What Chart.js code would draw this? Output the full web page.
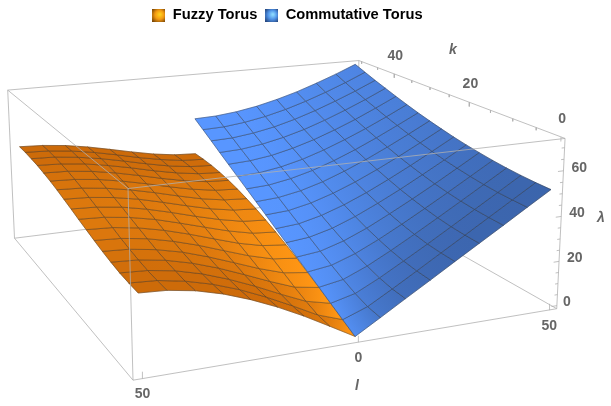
<!DOCTYPE html>
<html lang="en">
<head>
    <meta charset="UTF-8">
    <title>Fuzzy Torus vs Commutative Torus</title>
    <script src="https://cdn.jsdelivr.net/npm/chart.js"></script>
    <style>
        body { margin: 0; background: #fff; }
        canvas { display: block; }
    </style>
</head>
<body>
    <canvas id="grafico" width="611" height="406"></canvas>

    <script>
        // values
        const seriesNames = ['Fuzzy Torus', 'Commutative Torus'];
        const lValues = [0, 6.25, 12.5, 18.75, 25, 31.25, 37.5, 43.75, 50];
        const kValues = [0, 3.125, 6.25, 9.375, 12.5, 15.625, 18.75, 21.875, 25, 28.125, 31.25, 34.375, 37.5, 40.625, 43.75, 46.875, 50];

        // one row per |l|, one column per k
        const fuzzyLambda = [
            [0, 3.2, 6.4, 9.6, 12.6, 15.6, 18.3, 20.9, 23.3, 25.5, 27.4, 29.1, 30.5, 31.6, 32.4, 32.8, 33.0],
            [6.2, 7.0, 9.0, 11.4, 14.1, 16.8, 19.4, 21.8, 24.1, 26.3, 28.1, 29.8, 31.1, 32.2, 33.0, 33.4, 33.6],
            [12.3, 12.7, 13.8, 15.6, 17.6, 19.8, 22.0, 24.3, 26.4, 28.3, 30.0, 31.6, 32.9, 33.9, 34.6, 35.1, 35.2],
            [17.8, 18.1, 18.9, 20.2, 21.8, 23.6, 25.5, 27.5, 29.3, 31.1, 32.7, 34.1, 35.3, 36.2, 36.9, 37.3, 37.5],
            [22.6, 22.9, 23.5, 24.6, 25.9, 27.5, 29.1, 30.8, 32.5, 34.1, 35.6, 36.9, 38.0, 38.9, 39.5, 39.9, 40.0],
            [26.6, 26.8, 27.4, 28.3, 29.5, 30.8, 32.3, 33.9, 35.4, 36.9, 38.2, 39.4, 40.5, 41.3, 41.9, 42.3, 42.4],
            [29.6, 29.7, 30.3, 31.1, 32.1, 33.4, 34.8, 36.2, 37.7, 39.0, 40.3, 41.5, 42.5, 43.3, 43.8, 44.2, 44.3],
            [31.4, 31.6, 32.0, 32.8, 33.8, 35.0, 36.4, 37.7, 39.1, 40.4, 41.7, 42.8, 43.8, 44.5, 45.1, 45.4, 45.5],
            [32.0, 32.2, 32.6, 33.4, 34.4, 35.6, 36.9, 38.2, 39.6, 40.9, 42.2, 43.3, 44.2, 45.0, 45.5, 45.9, 46.0]
        ];
        const commutativeLambda = [
            [0, 3.2, 6.4, 9.7, 12.9, 16.1, 19.3, 22.5, 25.8, 29.0, 32.2, 35.4, 38.6, 41.8, 45.1, 48.3, 51.5],
            [6.4, 7.2, 9.1, 11.6, 14.4, 17.3, 20.4, 23.4, 26.5, 29.7, 32.8, 36.0, 39.2, 42.3, 45.5, 48.7, 51.9],
            [12.9, 13.3, 14.4, 16.1, 18.2, 20.6, 23.2, 26.0, 28.8, 31.7, 34.7, 37.7, 40.7, 43.8, 46.9, 50.0, 53.1],
            [19.3, 19.6, 20.4, 21.6, 23.2, 25.1, 27.3, 29.7, 32.2, 34.8, 37.5, 40.3, 43.2, 46.1, 49.0, 52.0, 55.0],
            [25.8, 26.0, 26.5, 27.5, 28.8, 30.4, 32.2, 34.2, 36.4, 38.8, 41.2, 43.8, 46.4, 49.1, 51.9, 54.7, 57.6],
            [32.2, 32.4, 32.8, 33.6, 34.7, 36.0, 37.5, 39.3, 41.2, 43.3, 45.5, 47.9, 50.3, 52.8, 55.4, 58.0, 60.7],
            [38.6, 38.8, 39.2, 39.8, 40.7, 41.8, 43.2, 44.7, 46.4, 48.3, 50.3, 52.4, 54.6, 57.0, 59.4, 61.8, 64.4],
            [45.1, 45.2, 45.5, 46.1, 46.9, 47.9, 49.0, 50.4, 51.9, 53.6, 55.4, 57.3, 59.4, 61.5, 63.7, 66.0, 68.4],
            [51.5, 51.6, 51.9, 52.4, 53.1, 54.0, 55.0, 56.2, 57.6, 59.1, 60.7, 62.5, 64.4, 66.4, 68.4, 70.6, 72.8]
        ];

        const lTicks = [-50, 0, 50];
        const lTickLabels = ['50', '0', '50'];
        const kTicks = [0, 20, 40];
        const kMinorTicks = [5, 10, 15, 25, 30, 35, 45, 50];
        const lambdaTicks = [0, 20, 40, 60];
        const lambdaMinorTicks = [5, 10, 15, 25, 30, 35, 45, 50, 55, 65, 70];

        // box limits
        const lRange = [-52.08, 52.08];
        const kRange = [-0.78, 50.9];
        const lambdaRange = [-1.4, 74];

        // camera: box coordinates (0..1) to picture coordinates, fitted on the box corners
        function project(l, k, lam) {
            const u = (l - lRange[0]) / (lRange[1] - lRange[0]);
            const v = (k - kRange[0]) / (kRange[1] - kRange[0]);
            const w = (lam - lambdaRange[0]) / (lambdaRange[1] - lambdaRange[0]);
            const d = 1 + 0.1352 * u + 0.3159 * v - 0.033 * w;
            return {
                x: (133 + 499 * u - 113.9 * v - 9.2 * w) / d,
                y: (380 - 30.36 * u - 68.13 * v - 199.2 * w) / d
            };
        }

        function mix(a, b, t) {
            t = Math.max(0, Math.min(1, t));
            const c = a.map((v, i) => Math.round(v + (b[i] - v) * t));
            return `rgb(${c[0]},${c[1]},${c[2]})`;
        }

        const datasets = [];

        function addLine(points, color, width) {
            datasets.push({
                data: points,
                showLine: true,
                pointRadius: 0,
                borderColor: color,
                borderWidth: width,
                fill: false,
                clip: false
            });
        }

        // light value at a grid vertex, from the slope over a wide stencil so the read-off noise does not show
        function lightAt(grid, i, j, spread, power) {
            const a0 = Math.max(0, i - 2), a1 = Math.min(lValues.length - 1, i + 2);
            const b0 = Math.max(0, j - 2), b1 = Math.min(kValues.length - 1, j + 2);
            const gl = (grid[a1][j] - grid[a0][j]) / (lValues[a1] - lValues[a0]);
            const gk = (grid[i][b1] - grid[i][b0]) / (kValues[b1] - kValues[b0]);
            return Math.pow(Math.max(0, gk) / Math.sqrt(1 + gl * gl + gk * gk) / spread, power);
        }

        function addSurface(grid, sign, dark, bright, spread, power) {
            for (let i = 0; i < lValues.length - 1; i++) {
                for (let j = 0; j < kValues.length - 1; j++) {
                    const near = (lightAt(grid, i, j, spread, power) + lightAt(grid, i, j + 1, spread, power)) / 2;
                    const far = (lightAt(grid, i + 1, j, spread, power) + lightAt(grid, i + 1, j + 1, spread, power)) / 2;
                    const corners = [
                        project(sign * lValues[i], kValues[j], grid[i][j]),
                        project(sign * lValues[i + 1], kValues[j], grid[i + 1][j]),
                        project(sign * lValues[i + 1], kValues[j + 1], grid[i + 1][j + 1]),
                        project(sign * lValues[i], kValues[j + 1], grid[i][j + 1])
                    ];
                    corners.push(corners[0]);
                    addLine(corners, 'rgba(45,45,45,0.68)', 0.6);
                    datasets[datasets.length - 1].cellColors = [mix(dark, bright, near), mix(dark, bright, far)];
                }
            }
        }

        const boxColor = '#b0b0b0';
        const [l0, l1] = lRange;
        const [k0, k1] = kRange;
        const [z0, z1] = lambdaRange;

        // box edges behind the surfaces
        addLine([project(l0, k1, z0), project(l1, k1, z0), project(l1, k0, z0)], boxColor, 0.8);
        addLine([project(l0, k1, z0), project(l0, k0, z0), project(l1, k0, z0)], boxColor, 0.8);
        addLine([project(l0, k1, z0), project(l0, k1, z1)], boxColor, 0.8);
        addLine([project(l1, k1, z0), project(l1, k1, z1)], boxColor, 0.8);

        addSurface(fuzzyLambda, -1, [203, 105, 9], [255, 150, 20], 0.65, 2);
        addSurface(commutativeLambda, 1, [58, 98, 168], [88, 150, 255], 0.7, 1.2);

        // box edges in front of the surfaces
        addLine([project(l0, k1, z1), project(l1, k1, z1), project(l1, k0, z1), project(l0, k0, z1), project(l0, k1, z1)], boxColor, 0.8);
        addLine([project(l0, k0, z0), project(l0, k0, z1)], boxColor, 0.8);
        addLine([project(l1, k0, z0), project(l1, k0, z1)], boxColor, 0.8);

        // tick marks
        lTicks.forEach(l => addLine([project(l, k0, z0), project(l, k0, z0 + 2.8)], boxColor, 0.8));
        kTicks.forEach(k => addLine([project(l1, k, z1), project(l1, k, z1 - 2)], boxColor, 0.8));
        kMinorTicks.forEach(k => addLine([project(l1, k, z1), project(l1, k, z1 - 1.2)], boxColor, 0.8));
        lambdaTicks.forEach(z => addLine([project(l1, k0, z), project(l1 - 1.5, k0, z)], boxColor, 0.8));
        lambdaMinorTicks.forEach(z => addLine([project(l1, k0, z), project(l1 - 0.8, k0, z)], boxColor, 0.8));

        // Chart.js paints the first dataset on top
        datasets.reverse();

        function swatch(inner, middle, outer) {
            const c = document.createElement('canvas');
            c.width = 13;
            c.height = 13;
            const g = c.getContext('2d');
            const grad = g.createRadialGradient(7.5, 5.5, 0.5, 6.5, 6.5, 9.5);
            grad.addColorStop(0, inner);
            grad.addColorStop(0.45, middle);
            grad.addColorStop(1, outer);
            g.fillStyle = grad;
            g.fillRect(0, 0, 13, 13);
            return c;
        }
        const swatches = [
            swatch('#ffd21e', '#f59a12', '#5e3404'),
            swatch('#8fdcff', '#4f93e8', '#1c3566')
        ];

        // fills a surface cell from the points the scales have placed
        const cellFill = {
            id: 'cellFill',
            beforeDatasetDraw(chart, args) {
                const colors = chart.data.datasets[args.index].cellColors;
                if (!colors) return;
                const { ctx } = chart;
                const p = args.meta.data;
                const grad = ctx.createLinearGradient(
                    (p[0].x + p[3].x) / 2, (p[0].y + p[3].y) / 2,
                    (p[1].x + p[2].x) / 2, (p[1].y + p[2].y) / 2
                );
                grad.addColorStop(0, colors[0]);
                grad.addColorStop(1, colors[1]);
                ctx.save();
                ctx.beginPath();
                p.forEach((pt, i) => i ? ctx.lineTo(pt.x, pt.y) : ctx.moveTo(pt.x, pt.y));
                ctx.closePath();
                ctx.fillStyle = grad;
                ctx.strokeStyle = grad;
                ctx.lineWidth = 0.5;
                ctx.fill();
                ctx.stroke();
                ctx.restore();
            }
        };

        const axisText = {
            id: 'axisText',
            afterDraw(chart) {
                const { ctx, scales } = chart;
                const put = (text, px, py, dx, dy, align) => {
                    ctx.textAlign = align;
                    ctx.fillText(text, scales.x.getPixelForValue(px) + dx, scales.y.getPixelForValue(py) + dy);
                };
                ctx.save();
                ctx.fillStyle = '#666666';
                ctx.textBaseline = 'middle';
                ctx.font = 'bold 14px "Liberation Sans"';
                lTicks.forEach((l, i) => {
                    const p = project(l, k0, z0);
                    put(lTickLabels[i], p.x, p.y, 0, 16, 'center');
                });
                kTicks.forEach(k => {
                    const p = project(l1, k, z1);
                    put(String(k), p.x, p.y, 1, -18, 'center');
                });
                lambdaTicks.forEach(z => {
                    const p = project(l1, k0, z);
                    put(String(z), p.x, p.y, z === 0 ? 6 : 8, -3, 'left');
                });
                ctx.font = 'italic bold 14px "Liberation Sans"';
                put('k', 453, 47.5, 0, 0, 'center');
                put('l', 357, 385.5, 0, 0, 'center');
                put('λ', 601, 217, 0, 0, 'center');
                ctx.restore();
            }
        };

        new Chart(document.getElementById('grafico'), {
            type: 'scatter',
            data: { datasets: datasets },
            plugins: [cellFill, axisText],
            options: {
                responsive: false,
                animation: false,
                layout: { padding: { right: 36 } },
                scales: {
                    x: { type: 'linear', display: false, min: 0, max: 575 },
                    y: { type: 'linear', display: false, min: 30, max: 406, reverse: true }
                },
                plugins: {
                    tooltip: { enabled: false },
                    legend: {
                        position: 'top',
                        onClick: null,
                        labels: {
                            usePointStyle: true,
                            pointStyleWidth: 13,
                            boxHeight: 13,
                            padding: 8,
                            color: '#000',
                            font: { family: '"Liberation Sans"', size: 14.7, weight: 'bold', lineHeight: 1 },
                            generateLabels: () => seriesNames.map((name, i) => ({
                                text: name,
                                pointStyle: swatches[i],
                                fillStyle: 'transparent',
                                strokeStyle: 'transparent',
                                lineWidth: 0,
                                datasetIndex: i
                            }))
                        }
                    }
                }
            }
        });
    </script>
</body>
</html>
